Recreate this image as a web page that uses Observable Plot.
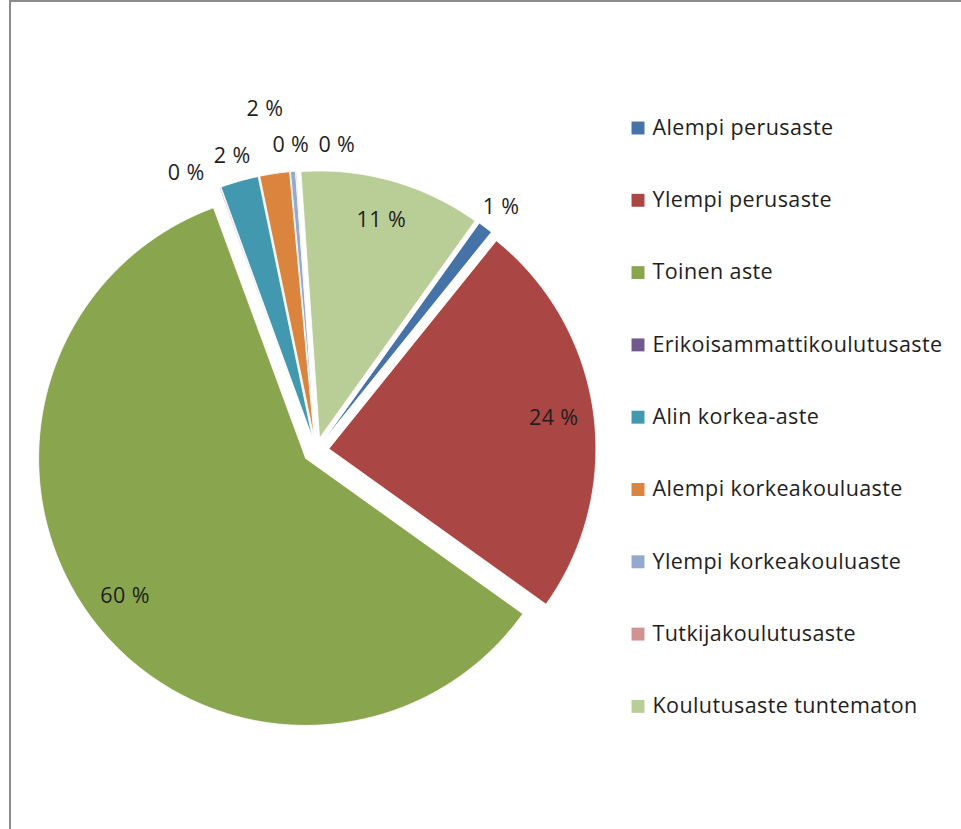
<!DOCTYPE html>
<html><head><meta charset="utf-8">
<script src="https://cdn.jsdelivr.net/npm/d3@7"></script>
<script src="https://cdn.jsdelivr.net/npm/@observablehq/plot@0.6"></script>
<style>
html,body{margin:0;padding:0;background:#fff;}
#wrap{position:relative;width:961px;height:829px;overflow:hidden;}
#frame{position:absolute;left:9px;top:0;width:2000px;height:2000px;border-left:2px solid #8c8c8c;border-top:2px solid #8c8c8c;pointer-events:none;}
</style></head><body>
<div id="wrap"><div id="chart"></div><div id="frame"></div></div>
<script>
// ---- data ----
const categories = [
  "Alempi perusaste",
  "Ylempi perusaste",
  "Toinen aste",
  "Erikoisammattikoulutusaste",
  "Alin korkea-aste",
  "Alempi korkeakouluaste",
  "Ylempi korkeakouluaste",
  "Tutkijakoulutusaste",
  "Koulutusaste tuntematon"
];
const shares = [0.9, 24.1, 59.5, 0.05, 2.3, 1.8, 0.3, 0.05, 11.0];
const palette = ["#4572A7", "#AA4643", "#89A54E", "#71588F", "#4198AF", "#DB843D", "#93A9CF", "#D19392", "#B9CD96"];

// ---- layout ----
const W = 961, H = 829;
const CX = 315.5, CY = 450, R = 267;      // pie centre / radius in px
const startDeg = 35.6;                     // first slice angle
const explode = 13 / R;                    // explosion as fraction of radius
const FONT = "'Open Sans', Lato, sans-serif";
const FS = 21.5;

const rad = d => d * Math.PI / 180;
const deg = r => r * 180 / Math.PI;
const total = d3.sum(shares);
let acc = startDeg;
const slices = categories.map((c, i) => {
  const a0 = acc, a1 = acc + shares[i] / total * 360;
  acc = a1;
  return {c, i, v: shares[i], a0, a1, mid: (a0 + a1) / 2,
          ox: explode * Math.sin(rad((a0 + a1) / 2)),
          oy: explode * Math.cos(rad((a0 + a1) / 2))};
});

// slice outlines (unit circle coordinates, y up)
const pts = [];
for (const s of slices) {
  pts.push({c: s.c, x: s.ox, y: s.oy});
  const n = Math.max(2, Math.ceil((s.a1 - s.a0) / 0.5) + 1);
  for (let k = 0; k < n; k++) {
    const a = s.a0 + (s.a1 - s.a0) * k / (n - 1);
    pts.push({c: s.c, x: s.ox + Math.sin(rad(a)), y: s.oy + Math.cos(rad(a))});
  }
  pts.push({c: s.c, x: s.ox, y: s.oy});
}

// data labels: inside for big slices, outside (best fit, greedy) for small ones
const fmt = v => Math.round(v / total * 100) + " %";
const labels = [];
const outs = [];
for (const s of slices) {
  if (s.v / total >= 0.05) {
    labels.push({text: fmt(s.v), x: s.ox + 0.85 * Math.sin(rad(s.mid)), y: s.oy + 0.85 * Math.cos(rad(s.mid))});
  } else outs.push(s);
}
const ring1 = 1.146, ring2 = 1.292;
const boxW = 46 / R, boxH = 24 / R;
const maxShift = 9;
const pos = (r, a) => ({x: r * Math.sin(rad(a)), y: r * Math.cos(rad(a))});
const placed = [];
const natural = new Map(outs.map(s => [s, pos(ring1, s.mid)]));
const hitIn = (list, p) => list.find(q => Math.abs(q.x - p.x) < boxW && Math.abs(q.y - p.y) < boxH);
outs.sort((a, b) => b.v - a.v || a.i - b.i);
const pending = new Set(outs);
for (const s of outs) {
  pending.delete(s);
  let p = natural.get(s);
  const h = hitIn(placed, p);
  if (h) {
    const dir = ((((s.mid - deg(Math.atan2(h.x, h.y))) % 360) + 540) % 360 - 180) >= 0 ? 1 : -1;
    const reserved = placed.concat([...pending].map(t => natural.get(t)));
    let found = null;
    for (let a = s.mid; Math.abs(a - s.mid) <= maxShift; a += dir * 0.25) {
      const q = pos(ring1, a);
      if (!hitIn(reserved, q)) { found = q; break; }
    }
    if (!found) {
      const q = pos(ring2, s.mid);
      if (!hitIn(placed, q)) found = q;
    }
    if (!found) {
      let a = s.mid; let q = p;
      while (hitIn(placed, q) && Math.abs(a - s.mid) < 60) { a += dir * 0.25; q = pos(ring1, a); }
      found = q;
    }
    p = found;
  }
  placed.push(p);
  labels.push({text: fmt(s.v), x: p.x, y: p.y});
}

// legend
const legend = categories.map((c, i) => ({c, x: (637.5 - CX) / R, tx: (652 - CX) / R, y: (CY - (127.5 + 72.3 * i)) / R}));

const chart = Plot.plot({
  width: W, height: H,
  margin: 0,
  style: {fontFamily: FONT, background: "transparent", letterSpacing: "0.4px"},
  x: {domain: [-CX / R, (W - CX) / R], axis: null},
  y: {domain: [-(H - CY) / R, CY / R], axis: null},
  color: {domain: categories, range: palette},
  marks: [
    Plot.line(pts, {x: "x", y: "y", z: "c", fill: "c", stroke: "white", strokeWidth: 0.8, curve: "linear"}),
    Plot.text(labels, {x: "x", y: "y", text: "text", fontSize: FS, fill: "#1e1e1e", textAnchor: "middle", lineAnchor: "middle", fontFamily: FONT}),
    Plot.dot(legend, {x: "x", y: "y", symbol: "square", r: 7.3, fill: "c", stroke: null}),
    Plot.text(legend, {x: "tx", y: "y", text: "c", textAnchor: "start", lineAnchor: "middle", fontSize: FS, fill: "#1e1e1e", fontFamily: FONT})
  ]
});
document.getElementById("chart").appendChild(chart);
</script>
</body></html>
